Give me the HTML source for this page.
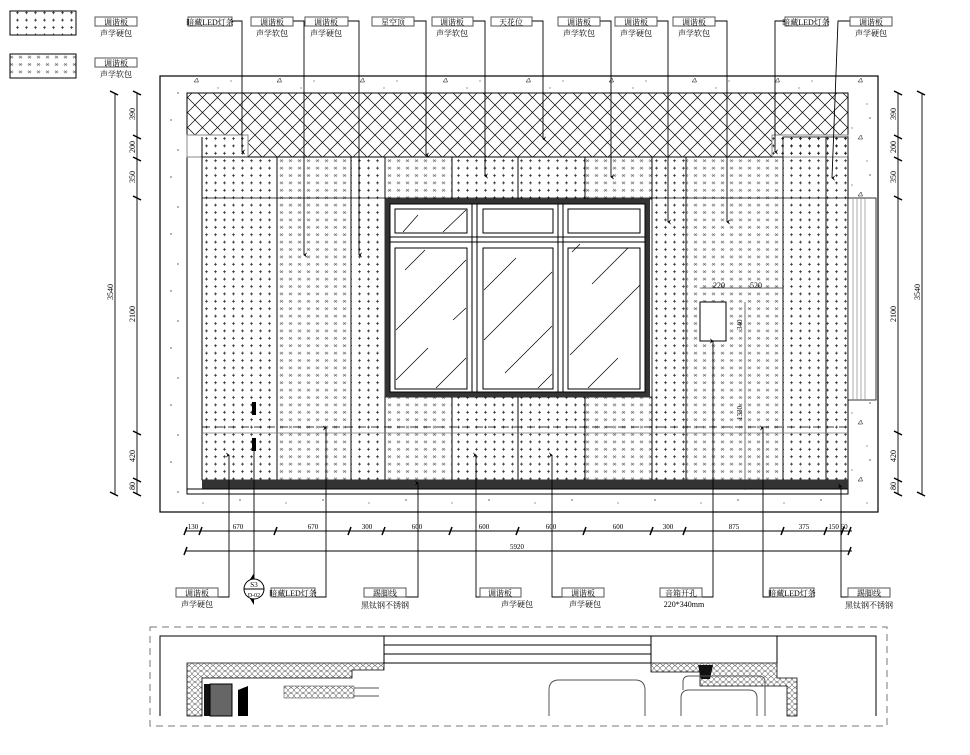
<!DOCTYPE html>
<html><head><meta charset="utf-8"><style>
html,body{margin:0;padding:0;background:#fff;}
svg{display:block;}
text{font-family:"Liberation Serif","Noto Serif CJK SC",serif;fill:#000;}
.t{font-size:8px;}
.d{font-size:8px;}
</style></head><body>
<svg width="970" height="755" viewBox="0 0 970 755" xmlns="http://www.w3.org/2000/svg">
<defs>
<pattern id="plus" patternUnits="userSpaceOnUse" width="9" height="7.4" x="202" y="157">
<path d="M3 3.7h3M4.5 2.2v3" stroke="#222" stroke-width="0.7"/>
</pattern>
<pattern id="soft" patternUnits="userSpaceOnUse" width="9" height="7.4" x="277" y="157">
<path d="M3.2 2.4l2.6 2.6M5.8 2.4l-2.6 2.6" stroke="#555" stroke-width="0.6"/>
<circle cx="3" cy="3.7" r="0.35" fill="#555"/><circle cx="6" cy="3.7" r="0.35" fill="#555"/>
</pattern>
<pattern id="hatch" patternUnits="userSpaceOnUse" width="15" height="15">
<path d="M0 0L15 15M15 0L0 15" stroke="#000" stroke-width="0.7"/>
</pattern>
<pattern id="conc" patternUnits="userSpaceOnUse" width="83" height="57">
<circle cx="5" cy="6" r="0.6"/><circle cx="22" cy="14" r="0.5"/><circle cx="40" cy="4" r="0.6"/>
<circle cx="65" cy="24" r="0.5"/><circle cx="12" cy="36" r="0.6"/><circle cx="37" cy="47" r="0.5"/>
<circle cx="74" cy="44" r="0.6"/><circle cx="52" cy="31" r="0.5"/>
<path d="M28 25l3 -4l1.5 4z" fill="none" stroke="#000" stroke-width="0.5"/>
<path d="M68 9l3 -4l1.5 4z" fill="none" stroke="#000" stroke-width="0.5"/>
</pattern>
<pattern id="hex" patternUnits="userSpaceOnUse" width="6" height="5.5">
<circle cx="3" cy="2.75" r="2.4" fill="none" stroke="#333" stroke-width="0.5"/>
</pattern>
<marker id="ah" viewBox="0 0 10 10" refX="5" refY="8" markerWidth="6" markerHeight="6" orient="auto-start-reverse">
<path d="M0 2L5 9L10 2L5 5z" fill="#000"/>
</marker>
</defs>

<!-- legend -->
<rect x="10" y="11" width="66" height="24" fill="url(#plus)" stroke="#000"/>
<rect x="10" y="54" width="66" height="24" fill="url(#soft)" stroke="#000"/>
<rect x="95" y="17" width="42" height="9" fill="none" stroke="#555"/>
<text class="t" x="116" y="25" text-anchor="middle">调谐板</text>
<text class="t" x="116" y="36" text-anchor="middle">声学硬包</text>
<rect x="95" y="58" width="42" height="9" fill="none" stroke="#555"/>
<text class="t" x="116" y="66" text-anchor="middle">调谐板</text>
<text class="t" x="116" y="77" text-anchor="middle">声学软包</text>

<!-- concrete frame -->
<rect x="160" y="76" width="718" height="436" fill="url(#conc)" stroke="#000" stroke-width="1.2"/>
<rect x="187" y="93" width="661" height="401" fill="#fff" stroke="#000"/>
<rect x="187" y="93" width="661" height="64" fill="url(#hatch)" stroke="#000"/>
<rect x="187" y="135" width="61" height="22" fill="#fff" stroke="#888"/>
<rect x="772" y="135" width="76" height="22" fill="#fff" stroke="#888"/>
<line x1="202" y1="137" x2="202" y2="480" stroke="#000"/>
<g stroke="#000" stroke-width="0.8">
<rect x="202" y="137" width="46" height="20" fill="url(#plus)" stroke="none"/>
<rect x="772" y="137" width="76" height="20" fill="url(#plus)" stroke="none"/>
<rect x="202" y="157" width="75" height="323" fill="url(#plus)"/>
<rect x="277" y="157" width="74" height="323" fill="url(#soft)"/>
<rect x="351" y="157" width="34" height="323" fill="url(#plus)"/>
<rect x="385" y="157" width="67" height="42" fill="url(#soft)"/>
<rect x="452" y="157" width="66" height="42" fill="url(#plus)"/>
<rect x="518" y="157" width="67" height="42" fill="url(#plus)"/>
<rect x="585" y="157" width="67" height="42" fill="url(#soft)"/>
<rect x="652" y="157" width="34" height="323" fill="url(#plus)"/>
<rect x="686" y="157" width="97" height="323" fill="url(#soft)"/>
<rect x="783" y="137" width="43" height="343" fill="url(#plus)"/>
<rect x="826" y="137" width="22" height="343" fill="url(#plus)"/>
<rect x="385" y="397" width="67" height="83" fill="url(#soft)"/>
<rect x="452" y="397" width="66" height="83" fill="url(#plus)"/>
<rect x="518" y="397" width="67" height="83" fill="url(#plus)"/>
<rect x="585" y="397" width="67" height="83" fill="url(#soft)"/>
<line x1="202" y1="198" x2="848" y2="198"/>
<line x1="202" y1="433" x2="848" y2="433" stroke="#777"/>
</g>
<line x1="202" y1="427" x2="848" y2="427" stroke="#000" stroke-width="0.8" stroke-dasharray="8,5"/>
<rect x="202" y="480" width="646" height="9" fill="#333"/>
<line x1="187" y1="489" x2="848" y2="489" stroke="#000"/>
<rect x="848" y="198" width="28" height="202" fill="#fff" stroke="#000" stroke-width="0.8"/>
<g stroke="#888" stroke-width="0.7"><line x1="853" y1="198" x2="853" y2="400"/><line x1="857" y1="198" x2="857" y2="400"/><line x1="861" y1="198" x2="861" y2="400"/><line x1="865" y1="198" x2="865" y2="400"/></g>

<!-- window -->
<rect x="385" y="199" width="265" height="198" fill="#333"/>
<rect x="390" y="204" width="255" height="188" fill="#fff" stroke="#000"/>
<line x1="390" y1="237" x2="645" y2="237" stroke="#000"/><line x1="390" y1="242" x2="645" y2="242" stroke="#000"/>
<g fill="none" stroke="#000">
<line x1="472" y1="204" x2="472" y2="392"/><line x1="477" y1="204" x2="477" y2="392"/>
<line x1="558" y1="204" x2="558" y2="392"/><line x1="563" y1="204" x2="563" y2="392"/>
<rect x="395" y="209" width="72" height="24"/><rect x="483" y="209" width="70" height="24"/><rect x="568" y="209" width="72" height="24"/>
<rect x="395" y="248" width="72" height="141"/><rect x="483" y="248" width="70" height="141"/><rect x="568" y="248" width="72" height="141"/>
</g>
<g stroke="#000" stroke-width="0.7">
<line x1="403" y1="232" x2="418" y2="215"/><line x1="443" y1="232" x2="466" y2="210"/>
<line x1="405" y1="270" x2="425" y2="250"/><line x1="396" y1="330" x2="466" y2="260"/><line x1="453" y1="320" x2="466" y2="308"/>
<line x1="396" y1="380" x2="428" y2="348"/><line x1="436" y1="388" x2="466" y2="358"/>
<line x1="484" y1="290" x2="516" y2="258"/><line x1="484" y1="340" x2="552" y2="272"/><line x1="505" y1="373" x2="552" y2="326"/><line x1="538" y1="388" x2="552" y2="374"/>
<line x1="572" y1="252" x2="580" y2="244"/><line x1="592" y1="284" x2="628" y2="248"/><line x1="570" y1="355" x2="640" y2="285"/><line x1="588" y1="388" x2="618" y2="358"/>
</g>

<rect x="700" y="302" width="26" height="39" fill="#fff" stroke="#000"/>
<g stroke="#333" stroke-width="0.7" fill="none">
<line x1="700" y1="288" x2="783" y2="288"/><line x1="745" y1="302" x2="745" y2="490"/>
</g>
<text x="713" y="288" font-size="8" fill="#c30">220</text><text x="750" y="288" font-size="8" fill="#c30">520</text>
<text x="0" y="0" font-size="7" transform="translate(742,330) rotate(-90)">340</text>
<text x="0" y="0" font-size="7" transform="translate(742,420) rotate(-90)">1330</text>
<rect x="252" y="402" width="4" height="13" fill="#000"/><rect x="252" y="438" width="4" height="13" fill="#000"/>

<g stroke="#000" stroke-width="0.9">
<line x1="115" y1="93" x2="115" y2="494"/><line x1="137" y1="93" x2="137" y2="494"/>
<g stroke-width="1.5">
<line x1="110" y1="91" x2="118" y2="95"/><line x1="110" y1="492" x2="118" y2="496"/>
<line x1="133" y1="91" x2="141" y2="95"/><line x1="133" y1="135" x2="141" y2="139"/><line x1="133" y1="157" x2="141" y2="161"/><line x1="133" y1="196" x2="141" y2="200"/><line x1="133" y1="431" x2="141" y2="435"/><line x1="133" y1="478" x2="141" y2="482"/><line x1="133" y1="492" x2="141" y2="496"/>
<line x1="894" y1="91" x2="902" y2="95"/><line x1="894" y1="135" x2="902" y2="139"/><line x1="894" y1="157" x2="902" y2="161"/><line x1="894" y1="196" x2="902" y2="200"/><line x1="894" y1="431" x2="902" y2="435"/><line x1="894" y1="478" x2="902" y2="482"/><line x1="894" y1="492" x2="902" y2="496"/>
<line x1="917" y1="91" x2="925" y2="95"/><line x1="917" y1="492" x2="925" y2="496"/>
</g>
<line x1="898" y1="93" x2="898" y2="494"/><line x1="922" y1="93" x2="922" y2="494"/>
</g>
<g class="d" font-size="7">
<text transform="translate(135,120) rotate(-90)">390</text><text transform="translate(135,153) rotate(-90)">200</text><text transform="translate(135,183) rotate(-90)">350</text><text transform="translate(135,322) rotate(-90)">2100</text><text transform="translate(135,462) rotate(-90)">420</text><text transform="translate(135,490) rotate(-90)">80</text>
<text transform="translate(113,300) rotate(-90)">3540</text>
<text transform="translate(896,120) rotate(-90)">390</text><text transform="translate(896,153) rotate(-90)">200</text><text transform="translate(896,183) rotate(-90)">350</text><text transform="translate(896,322) rotate(-90)">2100</text><text transform="translate(896,462) rotate(-90)">420</text><text transform="translate(896,490) rotate(-90)">80</text>
<text transform="translate(920,300) rotate(-90)">3540</text>
</g>

<g stroke="#000" stroke-width="0.9">
<line x1="185" y1="531" x2="852" y2="531"/><line x1="185" y1="551" x2="852" y2="551"/>
<g stroke-width="1.5">
<path d="M184 535l3 -8M199 535l3 -8M274 535l3 -8M348 535l3 -8M382 535l3 -8M449 535l3 -8M516 535l3 -8M583 535l3 -8M650 535l3 -8M683 535l3 -8M781 535l3 -8M824 535l3 -8M841 535l3 -8M848 535l3 -8M184 555l3 -8M848 555l3 -8"/>
</g>
</g>
<g font-size="7" text-anchor="middle">
<text x="193" y="529">130</text><text x="238" y="529">670</text><text x="313" y="529">670</text><text x="367" y="529">300</text><text x="417" y="529">600</text><text x="484" y="529">600</text><text x="551" y="529">600</text><text x="618" y="529">600</text><text x="668" y="529">300</text><text x="734" y="529">875</text><text x="804" y="529">375</text><text x="838" y="529">150 60</text>
<text x="517" y="549">5920</text>
</g>

<g fill="none" stroke="#000" stroke-width="0.9">
<path d="M232 21h10v131" marker-end="url(#ah)"/>
<path d="M293 21h11v234" marker-end="url(#ah)"/>
<path d="M348 21h11v234" marker-end="url(#ah)"/>
<path d="M414 21h12v134" marker-end="url(#ah)"/>
<path d="M473 21h12v155" marker-end="url(#ah)"/>
<path d="M532 21h11v118" marker-end="url(#ah)"/>
<path d="M600 21h11v156" marker-end="url(#ah)"/>
<path d="M657 21h11v201" marker-end="url(#ah)"/>
<path d="M715 21h12v201" marker-end="url(#ah)"/>
<path d="M785 21h-10v131" marker-end="url(#ah)"/>
<path d="M850 21h-12l-6 157" marker-end="url(#ah)"/>
</g>
<g fill="#fff" stroke="#555">
<rect x="188" y="17" width="44" height="9"/><rect x="251" y="17" width="42" height="9"/><rect x="305" y="17" width="43" height="9"/><rect x="372" y="17" width="42" height="9"/><rect x="432" y="17" width="41" height="9"/><rect x="491" y="17" width="41" height="9"/><rect x="558" y="17" width="42" height="9"/><rect x="615" y="17" width="42" height="9"/><rect x="673" y="17" width="42" height="9"/><rect x="785" y="17" width="43" height="9"/><rect x="850" y="17" width="42" height="9"/>
</g>
<g class="t" text-anchor="middle">
<text x="210" y="25">暗藏LED灯条</text>
<text x="272" y="25">调谐板</text><text x="272" y="36">声学软包</text>
<text x="326" y="25">调谐板</text><text x="326" y="36">声学硬包</text>
<text x="393" y="25">星空顶</text>
<text x="452" y="25">调谐板</text><text x="452" y="36">声学软包</text>
<text x="511" y="25">天花位</text>
<text x="579" y="25">调谐板</text><text x="579" y="36">声学软包</text>
<text x="636" y="25">调谐板</text><text x="636" y="36">声学硬包</text>
<text x="694" y="25">调谐板</text><text x="694" y="36">声学软包</text>
<text x="806" y="25">暗藏LED灯条</text>
<text x="871" y="25">调谐板</text><text x="871" y="36">声学硬包</text>
</g>

<g fill="none" stroke="#000" stroke-width="0.9">
<path d="M218 597h11v-142" marker-end="url(#ah)"/>
<path d="M254 580v-140"/>
<path d="M315 597h11v-169" marker-end="url(#ah)"/>
<path d="M406 597h12v-114" marker-end="url(#ah)"/>
<path d="M480 597h-4v-142" marker-end="url(#ah)"/>
<path d="M562 597h-10v-142" marker-end="url(#ah)"/>
<path d="M702 597h11v-256" marker-end="url(#ah)"/>
<path d="M770 597h-7v-169" marker-end="url(#ah)"/>
<path d="M848 597h-7v-111" marker-end="url(#ah)"/>
</g>
<g fill="#fff" stroke="#555">
<rect x="176" y="588" width="42" height="9"/><rect x="271" y="588" width="44" height="9"/><rect x="364" y="588" width="42" height="9"/><rect x="480" y="588" width="41" height="9"/><rect x="562" y="588" width="42" height="9"/><rect x="660" y="588" width="42" height="9"/><rect x="770" y="588" width="44" height="9"/><rect x="848" y="588" width="42" height="9"/>
</g>
<path d="M254 573l-10 16l10 16z" fill="#000"/>
<circle cx="254" cy="589" r="10" fill="#fff" stroke="#000"/>
<line x1="244" y1="589" x2="264" y2="589" stroke="#000"/>
<text x="254" y="587" font-size="7" text-anchor="middle">S3</text><text x="254" y="597" font-size="6" text-anchor="middle">D-02</text>
<g class="t" text-anchor="middle">
<text x="197" y="596">调谐板</text><text x="197" y="607">声学硬包</text>
<text x="293" y="596">暗藏LED灯条</text>
<text x="385" y="596">踢脚线</text><text x="385" y="608">黑钛钢不锈钢</text>
<text x="500" y="596">调谐板</text><text x="517" y="607">声学硬包</text>
<text x="583" y="596">调谐板</text><text x="585" y="607">声学硬包</text>
<text x="681" y="596">音箱开孔</text><text x="684" y="607">220*340mm</text>
<text x="792" y="596">暗藏LED灯条</text>
<text x="869" y="596">踢脚线</text><text x="869" y="608">黑钛钢不锈钢</text>
</g>

<rect x="150" y="627" width="737" height="99" fill="none" stroke="#777" stroke-dasharray="7,5"/>
<g stroke="#000" fill="none">
<path d="M160 716V636H876V716"/>
<line x1="384" y1="636" x2="384" y2="663"/><line x1="651" y1="636" x2="651" y2="663"/><line x1="777" y1="636" x2="777" y2="663"/>
<line x1="384" y1="645" x2="651" y2="645"/><line x1="384" y1="654" x2="651" y2="654"/><line x1="384" y1="663" x2="651" y2="663"/>
</g>
<path d="M187 663H384V670H352V678H202V716H187Z" fill="url(#hex)" stroke="#000" stroke-width="0.8"/>
<path d="M651 663H777V678H797V716H787V686H700V672H651Z" fill="url(#hex)" stroke="#000" stroke-width="0.8"/>
<path d="M698 665h15l-3 14h-9z" fill="#111"/>
<rect x="204" y="684" width="8" height="32" fill="#111"/>
<rect x="210" y="684" width="22" height="32" fill="#666" stroke="#000"/>
<path d="M238 690l10 -4v30h-10z" fill="#000"/>
<rect x="284" y="686" width="70" height="12" fill="url(#hex)" stroke="#555" stroke-width="0.6"/>
<path d="M354 688h25M354 696h25" stroke="#555"/>
<g fill="none" stroke="#555">
<path d="M549 716V690q0-10 10-10h76q10 0 10 10v26"/>
<path d="M681 716V698q0-8 8-8h60q8 0 8 8v18"/>
<path d="M683 690v-8q0-6 6-6h70q6 0 6 6v34"/>
</g>
</svg>
</body></html>
